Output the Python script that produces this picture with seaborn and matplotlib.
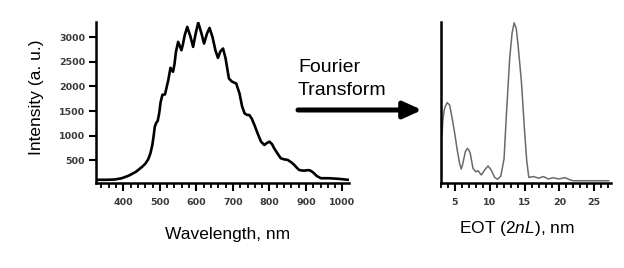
import matplotlib
matplotlib.use("Agg")
import matplotlib.pyplot as plt
from matplotlib.ticker import MultipleLocator, FixedLocator
import seaborn as sns
import pandas as pd

# ---- data ----
wavelength = [325, 350, 375, 395, 415, 435, 450, 460, 468, 474, 479, 483, 486, 490, 494,
              498, 502, 507, 514, 519, 523, 529, 536, 540, 544, 550, 559, 563, 568, 575,
              584, 591, 598, 605, 614, 621, 629, 636, 644, 652, 659, 666, 673, 680, 689,
              698, 709, 718, 725, 732, 739, 745, 752, 759, 768, 777, 786, 793, 800, 807,
              813, 822, 831, 840, 850, 860, 868, 875, 881, 888, 895, 902, 909, 915, 922,
              930, 941, 963, 990, 1018]
intensity = [105, 105, 110, 135, 190, 270, 360, 430, 520, 640, 800, 1000, 1180, 1260, 1300,
             1450, 1680, 1830, 1836, 2000, 2126, 2376, 2295, 2450, 2700, 2902, 2733, 2850, 3037, 3206,
             3003, 2801, 3070, 3293, 3070, 2868, 3070, 3185, 3003, 2733, 2578, 2713, 2767, 2565, 2160,
             2093, 2059, 1857, 1600, 1452, 1420, 1418, 1340, 1216, 1040, 879, 811, 850, 879, 830,
             744, 640, 542, 520, 508, 460, 407, 350, 306, 295, 290, 298, 300, 280, 238,
             180, 137, 137, 124, 103]

eot = [3.0, 3.15, 3.27, 3.45, 3.6, 3.89, 4.24, 4.57, 4.96, 5.33, 5.67, 5.9, 6.1, 6.29, 6.5,
       6.77, 7.0, 7.2, 7.59, 7.98, 8.31, 8.79, 9.27, 9.75, 10.2, 10.7, 11.1, 11.58, 12.05,
       12.38, 12.86, 13.2, 13.5, 13.8, 14.06, 14.54, 15.0, 15.3, 15.6, 16.3, 17.0, 17.7,
       18.4, 19.1, 19.9, 20.8, 21.5, 22.0, 27.1]
amplitude = [0.27, 0.30, 0.39, 0.45, 0.474, 0.499, 0.484, 0.41, 0.31, 0.205, 0.122, 0.087,
             0.115, 0.153, 0.195, 0.215, 0.205, 0.184, 0.091, 0.07, 0.076, 0.05, 0.081, 0.106,
             0.081, 0.035, 0.023, 0.043, 0.15, 0.42, 0.775, 0.93, 0.995, 0.96, 0.857, 0.63,
             0.32, 0.14, 0.035, 0.04, 0.03, 0.04, 0.025, 0.033, 0.025, 0.033, 0.02, 0.014, 0.014]

left_yticks = [500, 1000, 1500, 2000, 2500, 3000]
left_xticks = [400, 500, 600, 700, 800, 900, 1000]
right_xticks = [5, 10, 15, 20, 25]

sns.set_theme(style="ticks")
plt.rcParams['font.family'] = ['Liberation Sans', 'DejaVu Sans']
plt.rcParams['text.color'] = 'black'
plt.rcParams['mathtext.fontset'] = 'custom'
plt.rcParams['mathtext.rm'] = 'Liberation Sans'
plt.rcParams['mathtext.it'] = 'Liberation Sans:italic'

W, H = 624, 268
fig = plt.figure(figsize=(W / 100, H / 100), dpi=100)
fig.patch.set_facecolor('white')

def frac(x0, x1, y0, y1):
    return [x0 / W, 1 - y1 / H, (x1 - x0) / W, (y1 - y0) / H]

axL = fig.add_axes(frac(96, 349, 22, 183))
axR = fig.add_axes(frac(441, 611, 22, 183))

dfL = pd.DataFrame({"wl": wavelength, "I": intensity})
dfR = pd.DataFrame({"eot": eot, "amp": amplitude})

sns.lineplot(data=dfL, x="wl", y="I", ax=axL, color="black", linewidth=1.9,
             estimator=None, sort=False, solid_joinstyle='round', solid_capstyle='round')
sns.lineplot(data=dfR, x="eot", y="amp", ax=axR, color="#6a6a6a", linewidth=1.1,
             estimator=None, sort=False, solid_joinstyle='round')

tickfont = dict(family='DejaVu Sans', size=6.8, weight='bold', color='#3a3a3a')

for ax in (axL, axR):
    for s in ('top', 'right'):
        ax.spines[s].set_visible(False)
    for s in ('left', 'bottom'):
        ax.spines[s].set_linewidth(1.8)
        ax.spines[s].set_color('black')
    ax.set_facecolor('white')
    ax.tick_params(axis='x', which='major', direction='out', length=6, width=1.5,
                   color='black', pad=5)
    ax.tick_params(axis='x', which='minor', direction='out', length=3.5, width=1.3,
                   color='black')
    ax.set_xlabel('')
    ax.set_ylabel('')

# left panel
axL.set_xlim(325, 1018)
axL.set_ylim(40, 3305)
axL.xaxis.set_major_locator(FixedLocator(left_xticks))
axL.xaxis.set_minor_locator(MultipleLocator(20))
axL.set_yticks(left_yticks)
axL.set_xticklabels([str(v) for v in left_xticks], fontdict=tickfont)
axL.set_yticklabels([str(v) for v in left_yticks], fontdict=tickfont)
axL.tick_params(axis='y', direction='out', length=5, width=1.5, color='black', pad=3)

# right panel
axR.set_xlim(3.0, 27.4)
axR.set_ylim(0, 1.0)
axR.xaxis.set_major_locator(FixedLocator(right_xticks))
axR.xaxis.set_minor_locator(MultipleLocator(1))
axR.set_xticklabels([str(v) for v in right_xticks], fontdict=tickfont)
axR.set_yticks([])

# labels
fig.text(228 / W, 1 - 235 / H, 'Wavelength, nm', ha='center', va='center', fontsize=12.5)
fig.text(37 / W, 1 - 97 / H, 'Intensity (a. u.)', ha='center', va='center',
         rotation=90, fontsize=12.5)
fig.text(517 / W, 1 - 229 / H, 'EOT (2$\\mathit{nL}$), nm', ha='center', va='center',
         fontsize=12.5)

fig.text(298 / W, 1 - 72 / H, 'Fourier', ha='left', va='baseline', fontsize=14)
fig.text(298 / W, 1 - 95 / H, 'Transform', ha='left', va='baseline', fontsize=14)

fig.patches.append(matplotlib.patches.FancyArrowPatch(
    (298 / W, 1 - 110 / H), (422 / W, 1 - 110 / H), transform=fig.transFigure,
    arrowstyle='-|>,head_length=11,head_width=5', linewidth=3.6, color='black',
    shrinkA=0, shrinkB=0, mutation_scale=1))

fig.savefig('out.png', dpi=100, facecolor='white')
